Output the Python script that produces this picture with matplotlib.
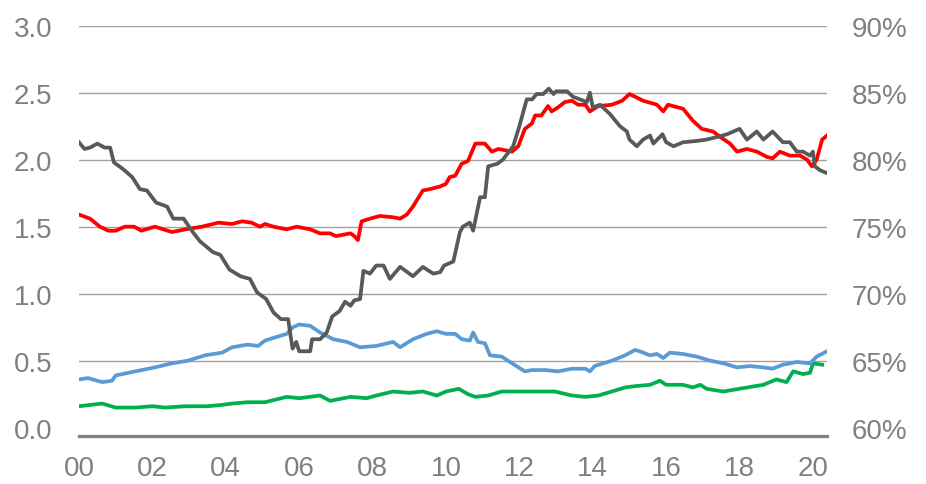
import matplotlib
matplotlib.use("Agg")
import matplotlib.pyplot as plt

# ---------------- data ----------------
gray_t = [2000.0, 2000.15, 2000.3, 2000.5, 2000.7, 2000.85, 2000.95, 2001.2, 2001.45, 2001.66,
          2001.85, 2002.1, 2002.4, 2002.57, 2002.85, 2003.1, 2003.3, 2003.65, 2003.85, 2004.1,
          2004.4, 2004.66, 2004.85, 2005.1, 2005.3, 2005.5, 2005.7, 2005.78, 2005.82, 2005.92,
          2006.0, 2006.3, 2006.35, 2006.57, 2006.75, 2006.9, 2007.1, 2007.25, 2007.4, 2007.5,
          2007.66, 2007.75, 2007.93, 2008.1, 2008.3, 2008.47, 2008.75, 2009.1, 2009.37, 2009.65,
          2009.84, 2009.95, 2010.2, 2010.38, 2010.46, 2010.65, 2010.74, 2010.93, 2011.06, 2011.15,
          2011.4, 2011.55, 2011.83, 2012.0, 2012.2, 2012.35, 2012.47, 2012.65, 2012.8, 2012.93,
          2013.0, 2013.3, 2013.46, 2013.65, 2013.84, 2013.92, 2014.0, 2014.2, 2014.47, 2014.74,
          2014.93, 2015.0, 2015.2, 2015.37, 2015.56, 2015.65, 2015.9, 2016.0, 2016.2, 2016.46,
          2016.84, 2017.1, 2017.4, 2017.66, 2018.0, 2018.2, 2018.47, 2018.65, 2018.9, 2019.18,
          2019.37, 2019.56, 2019.73, 2019.92, 2020.0, 2020.05, 2020.2, 2020.38]
gray_pct = [81.3, 80.8, 80.9, 81.2, 80.9, 80.9, 79.8, 79.3, 78.7, 77.8,
            77.7, 76.8, 76.5, 75.6, 75.6, 74.6, 73.9, 73.1, 72.9, 71.8,
            71.3, 71.1, 70.1, 69.6, 68.6, 68.1, 68.1, 66.6, 65.9, 66.4,
            65.7, 65.7, 66.6, 66.6, 67.1, 68.3, 68.7, 69.4, 69.1, 69.5,
            69.6, 71.7, 71.5, 72.1, 72.1, 71.1, 72.0, 71.3, 72.0, 71.5,
            71.6, 72.1, 72.4, 74.6, 75.0, 75.3, 74.7, 77.2, 77.2, 79.5,
            79.7, 80.0, 81.0, 82.5, 84.5, 84.5, 84.9, 84.9, 85.3, 84.9,
            85.1, 85.1, 84.7, 84.5, 84.3, 85.0, 83.9, 84.1, 83.4, 82.5,
            82.1, 81.5, 81.0, 81.5, 81.8, 81.2, 81.9, 81.3, 81.0, 81.3,
            81.4, 81.5, 81.7, 81.9, 82.3, 81.5, 82.1, 81.5, 82.1, 81.3,
            81.3, 80.6, 80.6, 80.3, 80.6, 79.5, 79.2, 79.0]

red_t = [2000.0, 2000.3, 2000.57, 2000.8, 2001.0, 2001.25, 2001.5, 2001.7, 2002.07, 2002.53,
         2002.9, 2003.35, 2003.8, 2004.17, 2004.44, 2004.7, 2004.93, 2005.07, 2005.3, 2005.66,
         2005.93, 2006.3, 2006.57, 2006.84, 2007.0, 2007.4, 2007.5, 2007.6, 2007.7, 2007.93,
         2008.2, 2008.56, 2008.75, 2008.93, 2009.1, 2009.37, 2009.56, 2009.84, 2010.0, 2010.1,
         2010.25, 2010.43, 2010.6, 2010.8, 2011.06, 2011.25, 2011.43, 2011.8, 2011.97, 2012.15,
         2012.34, 2012.43, 2012.6, 2012.78, 2012.88, 2013.05, 2013.24, 2013.43, 2013.6, 2013.8,
         2013.92, 2014.15, 2014.52, 2014.8, 2015.0, 2015.15, 2015.37, 2015.75, 2015.92, 2016.05,
         2016.46, 2016.73, 2016.97, 2017.28, 2017.47, 2017.74, 2017.93, 2018.2, 2018.47, 2018.75,
         2018.9, 2019.1, 2019.37, 2019.65, 2019.84, 2019.97, 2020.1, 2020.25, 2020.38]
red_v = [1.59, 1.56, 1.50, 1.47, 1.47, 1.50, 1.50, 1.47, 1.50, 1.46,
         1.48, 1.50, 1.53, 1.52, 1.54, 1.53, 1.50, 1.52, 1.50, 1.48,
         1.50, 1.48, 1.45, 1.45, 1.43, 1.45, 1.43, 1.40, 1.54, 1.56,
         1.58, 1.57, 1.56, 1.59, 1.65, 1.77, 1.78, 1.80, 1.82, 1.87,
         1.88, 1.97, 1.99, 2.12, 2.12, 2.06, 2.08, 2.06, 2.10, 2.23,
         2.27, 2.33, 2.33, 2.40, 2.36, 2.39, 2.43, 2.44, 2.41, 2.41,
         2.36, 2.40, 2.41, 2.44, 2.49, 2.47, 2.44, 2.41, 2.36, 2.41,
         2.38, 2.29, 2.23, 2.21, 2.17, 2.12, 2.06, 2.08, 2.06, 2.02,
         2.01, 2.06, 2.03, 2.03, 2.00, 1.95, 2.00, 2.15, 2.18]

blue_t = [2000.0, 2000.25, 2000.63, 2000.9, 2001.0, 2001.53, 2002.07, 2002.53, 2002.97, 2003.43,
          2003.9, 2004.17, 2004.6, 2004.88, 2005.07, 2005.3, 2005.66, 2005.83, 2006.0, 2006.3,
          2006.57, 2006.93, 2007.3, 2007.66, 2008.1, 2008.56, 2008.75, 2009.1, 2009.47, 2009.75,
          2010.0, 2010.25, 2010.43, 2010.65, 2010.74, 2010.87, 2011.06, 2011.2, 2011.52, 2011.8,
          2012.15, 2012.34, 2012.7, 2013.05, 2013.43, 2013.8, 2013.92, 2014.05, 2014.52, 2014.88,
          2015.15, 2015.28, 2015.56, 2015.75, 2015.92, 2016.1, 2016.46, 2016.84, 2017.2, 2017.56,
          2017.93, 2018.28, 2018.65, 2018.9, 2019.18, 2019.56, 2019.92, 2020.1, 2020.38]
blue_v = [0.36, 0.37, 0.34, 0.35, 0.39, 0.42, 0.45, 0.48, 0.50, 0.54,
          0.56, 0.60, 0.62, 0.61, 0.65, 0.67, 0.70, 0.75, 0.77, 0.76,
          0.71, 0.66, 0.64, 0.60, 0.61, 0.64, 0.60, 0.66, 0.70, 0.72,
          0.70, 0.70, 0.66, 0.65, 0.71, 0.64, 0.63, 0.54, 0.53, 0.48,
          0.42, 0.43, 0.43, 0.42, 0.44, 0.44, 0.42, 0.46, 0.50, 0.54,
          0.58, 0.57, 0.54, 0.55, 0.52, 0.56, 0.55, 0.53, 0.50, 0.48,
          0.45, 0.46, 0.45, 0.44, 0.47, 0.49, 0.48, 0.53, 0.57]

green_t = [2000.0, 2000.63, 2001.0, 2001.53, 2002.0, 2002.35, 2002.9, 2003.5, 2003.9, 2004.17,
           2004.6, 2005.07, 2005.66, 2006.0, 2006.57, 2006.84, 2007.4, 2007.84, 2008.1, 2008.56,
           2009.0, 2009.37, 2009.75, 2010.0, 2010.35, 2010.6, 2010.8, 2011.15, 2011.52, 2012.23,
           2012.97, 2013.43, 2013.8, 2014.15, 2014.52, 2014.88, 2015.15, 2015.56, 2015.83, 2016.0,
           2016.46, 2016.73, 2016.93, 2017.1, 2017.56, 2018.2, 2018.65, 2019.0, 2019.28, 2019.46,
           2019.73, 2019.92, 2020.0, 2020.25]
green_v = [0.16, 0.18, 0.15, 0.15, 0.16, 0.15, 0.16, 0.16, 0.17, 0.18,
           0.19, 0.19, 0.23, 0.22, 0.24, 0.20, 0.23, 0.22, 0.24, 0.27,
           0.26, 0.27, 0.24, 0.27, 0.29, 0.25, 0.23, 0.24, 0.27, 0.27,
           0.27, 0.24, 0.23, 0.24, 0.27, 0.30, 0.31, 0.32, 0.35, 0.32,
           0.32, 0.30, 0.32, 0.29, 0.27, 0.30, 0.32, 0.36, 0.34, 0.42,
           0.40, 0.41, 0.48, 0.47]

x_ticks = list(range(2000, 2021, 2))
x_labels = ["00", "02", "04", "06", "08", "10", "12", "14", "16", "18", "20"]
left_ticks = [0.0, 0.5, 1.0, 1.5, 2.0, 2.5, 3.0]
right_ticks = [60, 65, 70, 75, 80, 85, 90]

# ---------------- style ----------------
plt.rcParams['font.family'] = ['Liberation Sans', 'DejaVu Sans']
txt = '#808080'

fig = plt.figure(figsize=(9.26, 4.85), dpi=100)
ax = fig.add_axes([0.0853, 0.099, 0.8077, 0.846])
ax2 = ax.twinx()

y_lo, y_hi = -0.062, 3.0
ax.set_ylim(y_lo, y_hi)
ax2.set_ylim(60 + 10 * y_lo, 60 + 10 * y_hi)
ax.set_xlim(2000.0, 2020.38)

lw = 2.7
ax.plot(green_t, green_v, color='#00b050', lw=lw, solid_joinstyle='round', zorder=3)
ax.plot(blue_t, blue_v, color='#5b9bd5', lw=lw, solid_joinstyle='round', zorder=3)
ax.plot(red_t, red_v, color='#ff0000', lw=lw, solid_joinstyle='round', zorder=4)
ax2.plot(gray_t, gray_pct, color='#595959', lw=lw, solid_joinstyle='round', zorder=5)

for v in left_ticks[1:]:
    ax.axhline(v, color='#a0a0a0', lw=1.0, zorder=1)

ax.set_yticks(left_ticks)
ax.set_yticklabels([f"{v:.1f}" for v in left_ticks])
ax2.set_yticks(right_ticks)
ax2.set_yticklabels([f"{v}%" for v in right_ticks])
ax.set_xticks(x_ticks)
ax.set_xticklabels(x_labels)

for a in (ax, ax2):
    for s in ('top', 'left', 'right', 'bottom'):
        a.spines[s].set_visible(False)
ax.spines['bottom'].set_visible(True)
ax.spines['bottom'].set_color('#808080')
ax.spines['bottom'].set_linewidth(2.3)

ax.tick_params(axis='y', length=0, pad=19, labelsize=20, labelcolor=txt)
ax2.tick_params(axis='y', length=0, pad=18, labelsize=20, labelcolor=txt)
ax.tick_params(axis='x', length=0, pad=14, labelsize=20, labelcolor=txt)

fig.savefig('out.png', dpi=100)
